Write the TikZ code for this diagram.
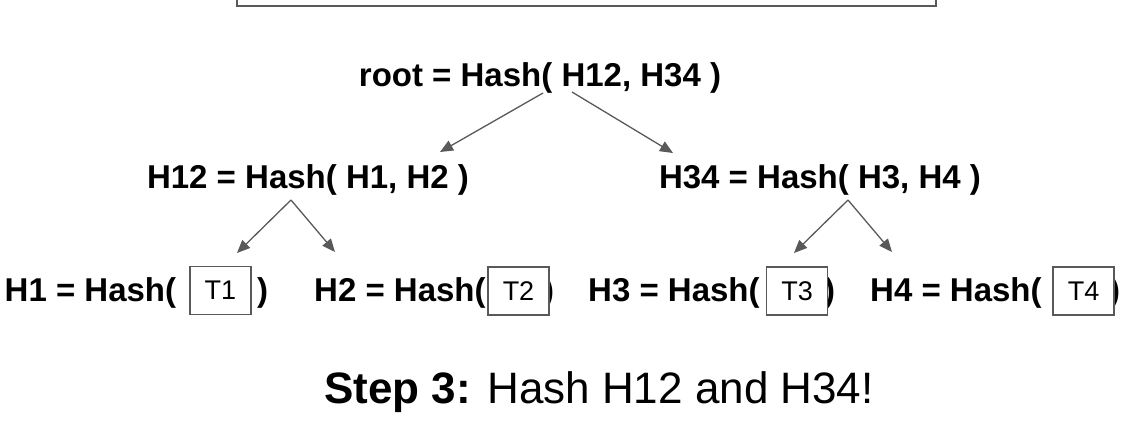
\documentclass[tikz,border=0pt]{standalone}
\usepackage{fontspec}
\setmainfont{Liberation Sans}
\usetikzlibrary{arrows.meta}
\definecolor{lngray}{HTML}{595959}
\tikzset{
  hashtxt/.style={inner sep=0pt, anchor=base west, font=\fontsize{33}{39}\selectfont\bfseries},
  midtxt/.style={inner sep=0pt, anchor=base, font=\fontsize{33}{39}\selectfont\bfseries},
  tbox/.style={draw=lngray, line width=1.3pt, fill=white, minimum width=61pt, minimum height=48pt, inner sep=0pt, font=\fontsize{27}{31}\selectfont},
  arr/.style={draw=lngray, line width=1.3pt, -{Triangle[length=13pt,width=11pt]}},
}
\begin{document}
\begin{tikzpicture}[x=1pt,y=-1pt]
\useasboundingbox (0,0) rectangle (1141,423);
% partial top box
\draw[lngray, line width=1.3pt] (237,-20) rectangle (936,6);

\node[midtxt] (root) at (540,86) {root = Hash( H12, H34 )};
\node[midtxt] (h12) at (308,188) {H12 = Hash( H1, H2 )};
\node[midtxt] (h34) at (820,188) {H34 = Hash( H3, H4 )};

\node[hashtxt] (h1) at (4.5,301) {H1 = Hash(};
\node[hashtxt] (h2) at (314,301) {H2 = Hash(};
\node[hashtxt] (h3) at (588,301) {H3 = Hash(};
\node[hashtxt] (h4) at (870,301) {H4 = Hash(};

\node[hashtxt] (p1) at (257,301) {)};
\node[hashtxt] (p2) at (543,301) {)};
\node[hashtxt] (p3) at (824,301) {)};
\node[hashtxt] (p4) at (1109,301) {)};

\node[tbox] (t1) at (220.5,290.5) {T1};
\node[tbox] (t2) at (518.5,291) {T2};
\node[tbox] (t3) at (797,291) {T3};
\node[tbox] (t4) at (1083.5,291) {T4};

% arrow endpoints
\coordinate (rL) at (543,93);
\coordinate (rR) at (572,92);
\coordinate (a12) at (440,152);
\coordinate (a34) at (673,153);
\coordinate (s12) at (291,200);
\coordinate (a1) at (237,253);
\coordinate (a2) at (335,252);
\coordinate (s34) at (848,200);
\coordinate (a3) at (794,253);
\coordinate (a4) at (892,252);

\draw[arr] (rL) -- (a12);
\draw[arr] (rR) -- (a34);
\draw[arr] (s12) -- (a1);
\draw[arr] (s12) -- (a2);
\draw[arr] (s34) -- (a3);
\draw[arr] (s34) -- (a4);

\node[inner sep=0pt, anchor=base, font=\fontsize{44}{52}\selectfont] (step) at (599,403) {\textbf{Step 3:} Hash H12 and H34!};
\end{tikzpicture}
\end{document}
